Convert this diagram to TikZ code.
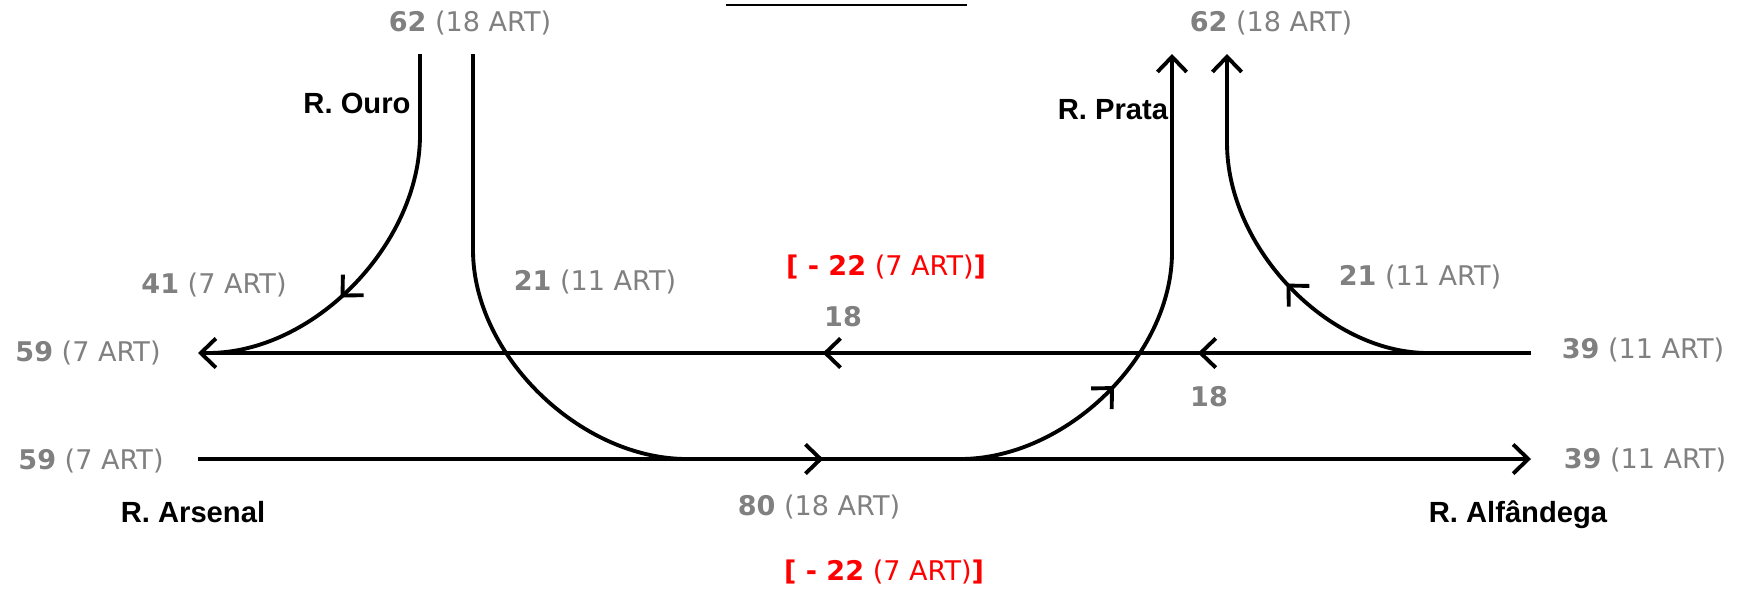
\documentclass[tikz,border=0pt]{standalone}
\usepackage{fontspec}
\setmainfont{DejaVu Sans}
\newfontfamily\streetfont{Liberation Sans}
\usetikzlibrary{arrows.meta,decorations.markings}
\definecolor{numgray}{RGB}{128,128,128}
\definecolor{cutred}{RGB}{255,0,0}
\tikzset{
  barb/.tip={Straight Barb[length=4.3pt,width=8.3pt]},
  road/.style={line width=1.1pt},
  flowmark/.style={postaction={decorate},decoration={markings,mark=at position #1 with {\arrow{barb}}}},
  turnmark/.style 2 args={postaction={decorate},decoration={markings,mark=at position #1 with {\pgftransformresetnontranslations\pgftransformrotate{#2}\arrow{barb}}}},
  count/.style={inner sep=0pt,text=numgray,font=\fontsize{7.7}{9}\selectfont},
  cut/.style={inner sep=0pt,text=cutred,font=\fontsize{7.7}{9}\selectfont},
  street/.style={inner sep=0pt,font=\streetfont\bfseries\fontsize{8.3}{10}\selectfont}
}

\begin{document}
\begin{tikzpicture}[x=0.01cm,y=-0.01cm]
\useasboundingbox (0,0) rectangle (1749,590);
\coordinate (ouroLtop) at (420,54); \coordinate (ouroLbend) at (420,135);
\coordinate (ouroRtop) at (473,54); \coordinate (ouroRbend) at (473,250);
\coordinate (prataLtop) at (1172,54); \coordinate (prataLbend) at (1172,252);
\coordinate (prataRtop) at (1227,54); \coordinate (prataRbend) at (1227,143);
\coordinate (upE) at (1531,353); \coordinate (upW) at (198,353);
\coordinate (upMergeW) at (208,353); \coordinate (upMergeE) at (1428,353);
\coordinate (lowW) at (198,459); \coordinate (lowE) at (1531,459);
\coordinate (lowMergeW) at (687,459); \coordinate (lowMergeE) at (960,459);
\draw[line width=0.6pt] (726,5) -- (967,5);
\draw[road,-{barb},postaction={decorate},decoration={markings,mark=at position 3.33cm with {\arrow{barb}},mark=at position 7.08cm with {\arrow{barb}}}] (upE) -- (upW);
\draw[road,-{barb},flowmark=6.25cm] (lowW) -- (lowE);
\draw[road,turnmark={2.67cm}{225}] (ouroLtop) -- (ouroLbend) .. controls (420,244) and (314,353) .. (upMergeW);
\draw[road] (ouroRtop) -- (ouroRbend) .. controls (473,355) and (580,459) .. (lowMergeW);
\draw[road,-{barb},turnmark={1.75cm}{45}] (lowMergeE) .. controls (1066,459) and (1172,356) .. (prataLbend) -- (prataLtop);
\draw[road,-{barb},turnmark={1.62cm}{135}] (upMergeE) .. controls (1328,353) and (1227,248) .. (prataRbend) -- (prataRtop);
\node[count] (ouroIn) at (470,23) {\textbf{62} (18 ART)};
\node[count] (prataOut) at (1271,23) {\textbf{62} (18 ART)};
\node[street] (ouroName) at (357,103) {R. Ouro};
\node[street] (prataName) at (1113,110) {R. Prata};
\node[count] (ouroTurn) at (214,285) {\textbf{41} (7 ART)};
\node[count] (ouroThru) at (595,282) {\textbf{21} (11 ART)};
\node[cut] (cutUp) at (886,267) {\textbf{[ - 22} (7 ART)\textbf{]}};
\node[count] (upMid) at (843,317) {\textbf{18}};
\node[count] (prataTurn) at (1420,277) {\textbf{21} (11 ART)};
\node[count] (upWest) at (88,353) {\textbf{59} (7 ART)};
\node[count] (upEast) at (1643,350) {\textbf{39} (11 ART)};
\node[count] (lowMidTurn) at (1209,397) {\textbf{18}};
\node[count] (lowWest) at (91,461) {\textbf{59} (7 ART)};
\node[count] (lowEast) at (1645,460) {\textbf{39} (11 ART)};
\node[street] (arsenalName) at (193,512) {R. Arsenal};
\node[count] (lowMid) at (819,507) {\textbf{80} (18 ART)};
\node[street] (alfName) at (1518,515) {R. Alfândega};
\node[cut] (cutLow) at (884,572) {\textbf{[ - 22} (7 ART)\textbf{]}};
\end{tikzpicture}
\end{document}
